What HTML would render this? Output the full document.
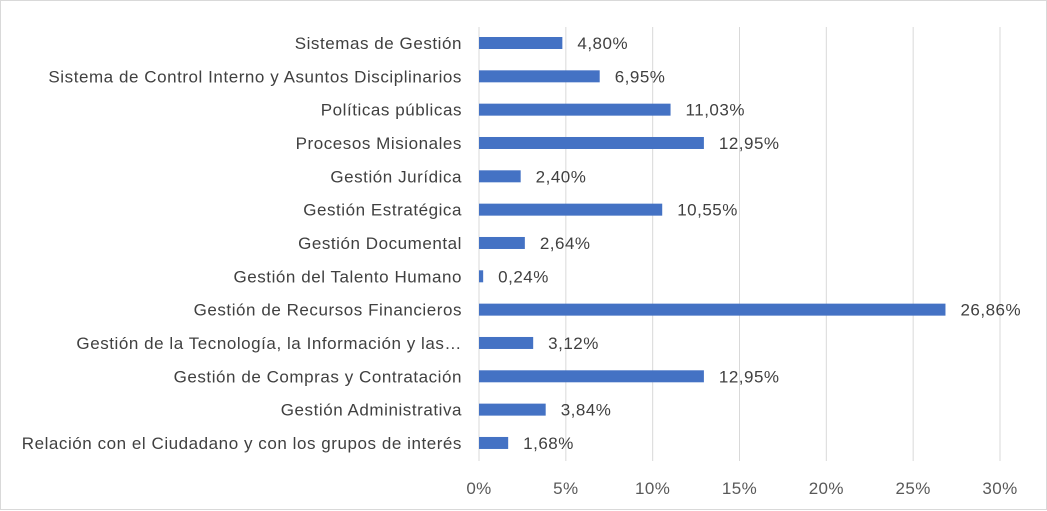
<!DOCTYPE html>
<html><head><meta charset="utf-8"><style>
body{margin:0;background:#fff;}
svg{display:block;font-family:"Liberation Sans",sans-serif;}
</style></head><body>
<svg id="c" width="1047" height="511">
<rect x="0.5" y="0.5" width="1046" height="509" fill="#fff" stroke="#d9d9d9"/>
<g id="grid"></g><g id="bars"></g><g id="labels"></g>
</svg>
<script>
const categories=["Sistemas de Gestión","Sistema de Control Interno y Asuntos Disciplinarios","Políticas públicas","Procesos Misionales","Gestión Jurídica","Gestión Estratégica","Gestión Documental","Gestión del Talento Humano","Gestión de Recursos Financieros","Gestión de la Tecnología, la Información y las…","Gestión de Compras y Contratación","Gestión Administrativa","Relación con el Ciudadano y con los grupos de interés"];
const values=[4.80,6.95,11.03,12.95,2.40,10.55,2.64,0.24,26.86,3.12,12.95,3.84,1.68];
const ticks=[0,5,10,15,20,25,30];
const NS="http://www.w3.org/2000/svg";
const x0=479,x1=1000,max=30,yTop=43,step=33.33;
const xs=v=>x0+(x1-x0)*v/max;
const ys=i=>yTop+i*step;
function mk(t,a,p){const e=document.createElementNS(NS,t);for(const k in a)e.setAttribute(k,a[k]);p.appendChild(e);return e;}
const g=document.getElementById('grid'),b=document.getElementById('bars'),l=document.getElementById('labels');
ticks.forEach(t=>{
 const ln=mk('line',{x1:xs(t),x2:xs(t),y1:27,y2:461,stroke:'#d9d9d9','stroke-width':1},g);
 
 
 const tx=mk('text',{x:xs(t),y:494,'text-anchor':'middle','font-size':17,'letter-spacing':0.4,fill:'#595959'},l);
 tx.textContent=t+'%';
 
 
});
categories.forEach((c,i)=>{
 const y=ys(i);
 const r=mk('rect',{x:x0,y:y-6,width:xs(values[i])-x0,height:12,fill:'#4472c4'},b);
 
 
 const ct=mk('text',{x:462,y:y+6,'text-anchor':'end','font-size':17,'letter-spacing':0.55,fill:'#404040'},l);
 ct.textContent=c;
 
 
 const vt=mk('text',{x:xs(values[i])+15,y:y+6,'font-size':17,'letter-spacing':0.5,fill:'#404040'},l);
 vt.textContent=values[i].toFixed(2).replace('.',',')+'%';
 
 
});
</script>
</body></html>
